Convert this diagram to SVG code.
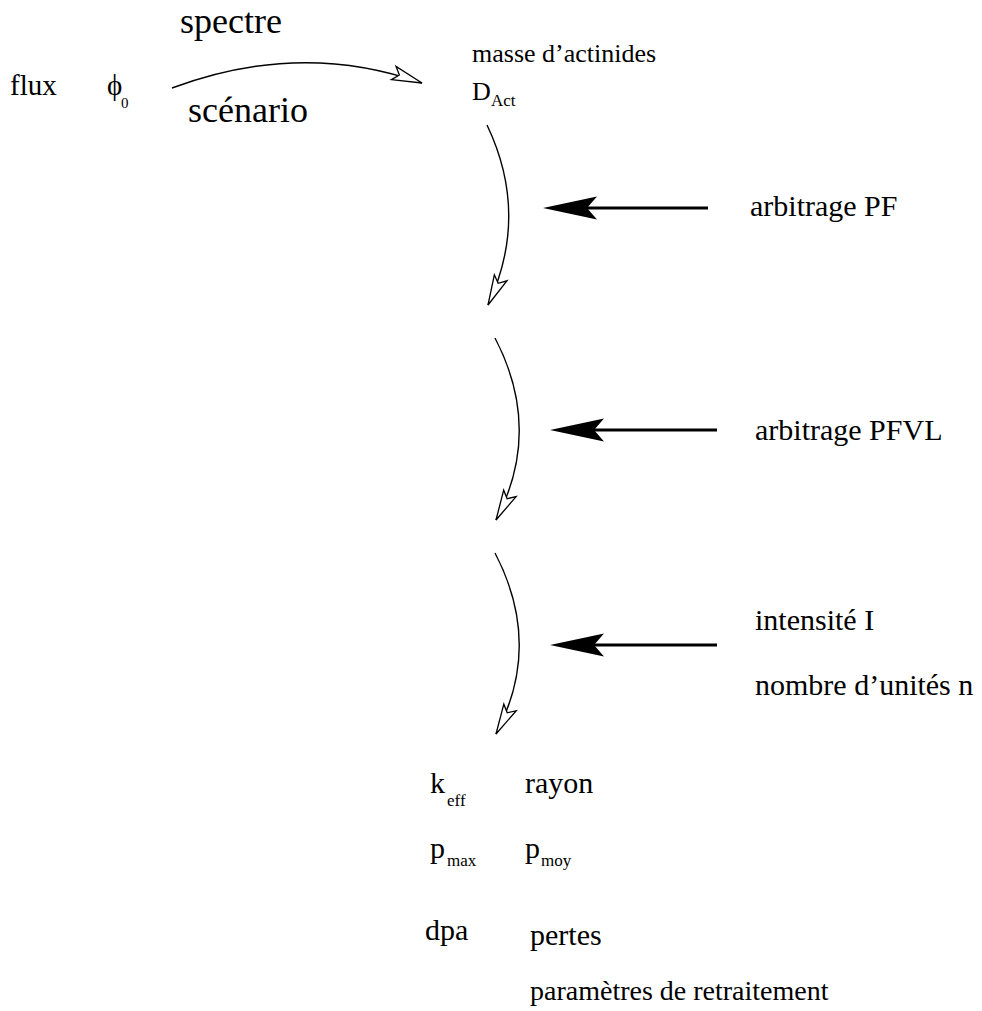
<svg xmlns="http://www.w3.org/2000/svg" width="982" height="1011" viewBox="0 0 982 1011">
<style>
text{fill:#000}
.t30{font-size:30px}.t36{font-size:36px}.t29{font-size:29px}.t28{font-size:28px}.t26{font-size:26px}.sub{font-size:17px}.sub0{font-size:15px}
.curve{fill:none;stroke:#000;stroke-width:1.4}
.bold{fill:none;stroke:#000;stroke-width:3}
</style>
<defs>
<marker id="open" markerUnits="userSpaceOnUse" orient="auto" refX="0" refY="0" markerWidth="60" markerHeight="60" overflow="visible">
<path d="M0,0 L-30,-7 L-24,0 L-30,7 Z" fill="#fff" stroke="#000" stroke-width="1.3" stroke-linejoin="miter"/>
</marker>
<marker id="solid" markerUnits="userSpaceOnUse" orient="auto" refX="-14" refY="0" markerWidth="80" markerHeight="80" overflow="visible">
<path d="M0,0 L-54,-11.5 L-44,0 L-54,11.5 Z" fill="#000"/>
</marker>
</defs>
<g id="connectors">
<path class="curve" d="M172,88 Q300,40 422,83" marker-end="url(#open)"/>
<path class="curve" d="M487,125 Q530,215 488,305" marker-end="url(#open)"/>
<path class="curve" d="M495,338 Q543,430 496,520" marker-end="url(#open)"/>
<path class="curve" d="M495,553 Q543,645 496,734" marker-end="url(#open)"/>
<path class="bold" d="M708,208 L557,208" marker-end="url(#solid)"/>
<path class="bold" d="M717,430 L564,430" marker-end="url(#solid)"/>
<path class="bold" d="M717,645 L564,645" marker-end="url(#solid)"/>
</g>
<g font-family="Liberation Serif, Times New Roman, DejaVu Serif, serif">
<g id="flux"><text class="t29" x="10" y="95">flux</text><text class="t29" x="107" y="95">ϕ</text><text class="sub0" x="121" y="108">0</text></g>
<g id="spectre"><text class="t36" x="180" y="33">spectre</text></g>
<g id="scenario"><text class="t36" x="188" y="122">scénario</text></g>
<g id="actinides"><text class="t26" x="472" y="62">masse d’actinides</text><text class="t26" x="472" y="100">D</text><text class="sub" x="491" y="106">Act</text></g>
<g id="arbPF"><text class="t30" x="750" y="216">arbitrage PF</text></g>
<g id="arbPFVL"><text class="t30" x="755" y="440">arbitrage PFVL</text></g>
<g id="intensite"><text class="t30" x="755" y="630">intensité I</text><text class="t30" x="755" y="695">nombre d’unités n</text></g>
<g id="results">
<text class="t30" x="430" y="793">k</text><text class="sub" x="447" y="806">eff</text>
<text class="t30" x="525" y="793">rayon</text>
<text class="t30" x="430" y="858">p</text><text class="sub" x="447" y="866">max</text>
<text class="t30" x="525" y="858">p</text><text class="sub" x="541" y="866">moy</text>
<text class="t30" x="425" y="940">dpa</text>
<text class="t30" x="530" y="945">pertes</text>
<text class="t28" x="530" y="1000">paramètres de retraitement</text>
</g>
</g>
</svg>
